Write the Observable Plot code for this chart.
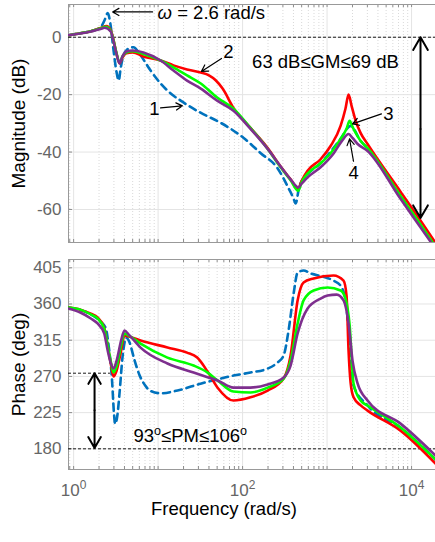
<!DOCTYPE html>
<html>
<head>
<meta charset="utf-8">
<script src="https://cdn.jsdelivr.net/npm/d3@7"></script>
<script src="https://cdn.jsdelivr.net/npm/@observablehq/plot@0.6"></script>
<style>
  html, body { margin: 0; padding: 0; background: #fff; }
  #chart { position: relative; width: 435px; height: 542px; overflow: hidden; background: #fff; }
  #chart svg { display: block; max-width: none; }
</style>
</head>
<body>
<div id="chart"></div>
<script>
// ---------------- data ----------------
// Magnitude (dB) vs frequency (rad/s)
const magBlueW  = [0.87, 1.2, 1.6, 2.09, 2.33, 2.53, 2.74, 2.97, 3.23, 3.42, 3.6, 3.9, 4.5, 5.1, 6.2, 8.15, 10.7, 14.1, 18.5, 31.8, 55, 103, 164, 259, 350, 400, 424, 470, 560, 838, 1445, 1900, 2490, 3013, 7400, 19200];
const magBlueDb = [0.7, 1.4, 2.1, 3.5, 6.0, 8.4, 4.2, -4.6, -12.3, -15.1, -10.9, -6.3, -3.9, -3.5, -6.3, -11.6, -16.1, -19.6, -22.1, -26.3, -29.8, -35.1, -40.4, -45.6, -52.6, -56.1, -57.9, -51.9, -48.4, -43.9, -35.4, -30.9, -36.1, -38.6, -55.3, -73];

const magRedW  = [0.87, 1.2, 1.6, 2.09, 2.45, 2.75, 2.97, 3.2, 3.5, 3.8, 4.2, 5.0, 6.7, 10.7, 15.2, 22, 32, 40, 48, 58, 78, 124, 198, 282, 370, 455, 500, 588, 838, 1100, 1445, 1650, 1796, 1950, 2180, 2490, 3013, 7400, 12800, 19200];
const magRedDb = [0.7, 1.4, 2.1, 3.2, 3.9, 2.5, -1, -5.3, -9.1, -7, -5.6, -5.3, -6.7, -8.1, -9.8, -11.2, -12.3, -13.3, -15, -17.9, -24.6, -31.6, -38.6, -45, -49.5, -52.8, -50, -46.5, -42.5, -37.9, -30.9, -24.9, -20, -23.9, -29.1, -33.3, -37.2, -53.8, -63.9, -71.6];

const magGreenW  = [0.87, 1.2, 1.6, 2.09, 2.4, 2.75, 2.97, 3.2, 3.5, 3.8, 4.2, 5.0, 6.7, 10.7, 15.2, 22, 32, 50, 78, 124, 198, 282, 370, 455, 500, 588, 838, 1100, 1445, 1700, 1850, 2000, 2250, 2490, 3013, 7400, 12800, 19200];
const magGreenDb = [0.7, 1.4, 2.1, 3.1, 3.6, 2.2, -1.2, -5.3, -8.8, -6.6, -5.3, -4.9, -5.8, -8.1, -10.5, -13.3, -16.1, -21, -24.9, -31.6, -38.9, -45.3, -49.8, -53.5, -50.5, -47.5, -43.9, -40.4, -35.4, -31.9, -29.1, -31.2, -34, -36.1, -38.6, -55.3, -65.3, -73];

const magPurpleW  = [0.87, 1.2, 1.6, 2.09, 2.33, 2.75, 2.97, 3.2, 3.5, 3.8, 4.2, 5.0, 6.7, 10.7, 15.2, 22, 32, 50, 78, 124, 198, 282, 370, 455, 500, 588, 838, 1200, 1500, 1800, 2000, 2300, 3013, 7400, 12800, 19200];
const magPurpleDb = [0.7, 1.3, 2.0, 2.9, 3.3, 2.0, -1.5, -5.5, -9.1, -6.6, -5.0, -4.6, -5.3, -8.1, -11.6, -15.1, -17.9, -22.1, -25.6, -31.9, -38.9, -45, -49.5, -52.3, -51, -48.8, -45.3, -40.4, -36.1, -33.7, -35.1, -37.2, -39.6, -56.3, -66.3, -73.7];

// Phase (deg) vs frequency (rad/s)
const phBlueW   = [0.87, 1.6, 2.09, 2.4, 2.6, 2.85, 3.0, 3.1, 3.3, 3.5, 3.8, 4.2, 4.6, 5.2, 6.0, 7.0, 8.15, 10.7, 17, 31.8, 55, 78, 124, 198, 259, 306, 350, 402, 448, 527, 638, 900, 1194, 1445, 1650, 1850, 2058, 3013, 7400, 19200];
const phBlueDeg = [355.6, 347, 338, 330, 308, 265, 225, 211, 222, 250, 295, 318, 312, 292, 272, 259, 252, 249, 252.5, 261, 267.3, 271, 274.8, 279.7, 287.2, 296, 327, 373, 399, 401.6, 397.9, 394, 389, 382.8, 364.4, 314.6, 258.6, 233.8, 206.4, 166.6];

const phRedW   = [0.87, 1.2, 1.6, 1.92, 2.3, 2.53, 2.74, 2.97, 3.23, 3.65, 4.0, 4.5, 6.2, 12.9, 22, 29, 38.5, 50.6, 78, 124, 198, 306, 370, 448, 527, 692, 1194, 1567, 1700, 1796, 1900, 2058, 2500, 3013, 7400, 19200];
const phRedDeg = [355.6, 353, 348, 343.2, 330.7, 308.3, 287.2, 269.8, 277.3, 302, 320.8, 319.6, 314.6, 306, 299.6, 293.4, 276, 256, 240, 244, 252.4, 267.3, 296, 364.4, 386.8, 391.7, 395.4, 389, 370, 302, 262, 244, 234, 227.5, 202.6, 161.6];

const phGreenW   = [0.87, 1.2, 1.6, 1.92, 2.3, 2.53, 2.74, 2.97, 3.23, 3.65, 4.0, 4.5, 6.2, 12.9, 26.3, 38.5, 50.6, 78, 124, 198, 306, 370, 448, 527, 692, 1014, 1445, 1650, 1850, 2058, 2491, 3013, 7400, 19200];
const phGreenDeg = [355.6, 353, 347, 342, 329.5, 308.3, 289.7, 274.9, 282.4, 308.4, 323.3, 320.8, 310.8, 293.4, 283.5, 274.8, 265, 251.2, 250, 256.1, 267.3, 289.7, 335.7, 364.4, 376.8, 380.5, 376.8, 366.8, 333.3, 261.2, 240, 233.8, 206.4, 166.6];

const phPurpleW   = [0.87, 1.2, 1.6, 1.92, 2.3, 2.53, 2.74, 2.97, 3.23, 3.65, 4.0, 4.5, 6.2, 12.9, 26.3, 38.5, 50.6, 78, 124, 198, 306, 370, 448, 588, 838, 1014, 1300, 1567, 1796, 2000, 2296, 3013, 7400, 19200];
const phPurpleDeg = [354.4, 349.4, 342, 335.8, 323.4, 302.2, 287.3, 279.8, 289.7, 314.6, 327, 322, 305.8, 286, 274.8, 269, 265, 256.1, 256.1, 260, 268.6, 283.5, 323.3, 354.4, 366.8, 370.5, 371.7, 364.4, 335.8, 289.7, 261.2, 240, 211.3, 171.6];

// ---------------- axes / ticks / styling ----------------
const freqDomain  = [0.87, 19200];
const magDomain   = [-71.5, 11.4];
const phaseDomain = [154.3, 415.3];
const freqTicks   = [1, 100, 10000];
const decades     = [1, 10, 100, 1000, 10000];
const magTicks    = [-60, -40, -20, 0];
const phaseTicks  = [180, 225, 270, 315, 360, 405];

const seriesIds    = ["1", "2", "3", "4"];
const seriesColors = ["#0072bd", "#ff0000", "#00ff00", "#7e2f8e"];

// annotations (data coordinates: rad/s, dB or deg)
const omegaLabel = [{w: 9.86, v: 8.3, text: "ω = 2.6 rad/s"}];
const magLabels = [
  {w: 68,   v: -5.3, text: "2"},
  {w: 9.06, v: -24.9, text: "1"},
  {w: 958,  v: -8.8, text: "63 dB≤GM≤69 dB"},
  {w: 5320, v: -26.7, text: "3"},
  {w: 2060, v: -47.4, text: "4"}
];
const magArrows = [
  {w1: 8.6,  v1: 8.8,  w2: 2.9,  v2: 8.8},
  {w1: 56.3, v1: -7.4, w2: 32.6, v2: -11.9},
  {w1: 10.7, v1: -24.6, w2: 19.4, v2: -23.9},
  {w1: 4400, v1: -26.7, w2: 2000, v2: -30.2},
  {w1: 2055, v1: -43.2, w2: 1845, v2: -35.4}
];
const gmArrow = [{w: 12760, from: -32, to: 0}, {w: 12760, from: -32, to: -63}];
const zeroDb = [0];

const phaseLabels = [{w: 5.12, v: 196.4, text: "93o≤PM≤106o"}];
const pmArrow = [{w: 1.77, from: 228, to: 274}, {w: 1.77, from: 228, to: 181}];
const pmLine = [{w1: 0.87, w2: 2.73, v: 274}];
const deg180 = [180];

const FONT = "Arial, 'Liberation Sans', Helvetica, sans-serif";
const minorTicks = d3.scaleLog().domain(freqDomain).ticks().filter(t => !decades.includes(t));

const rows = (ws, vs) => ws.map((w, i) => ({w, v: vs[i]}));
const magSeries = [rows(magBlueW, magBlueDb), rows(magRedW, magRedDb), rows(magGreenW, magGreenDb), rows(magPurpleW, magPurpleDb)];
const phSeries  = [rows(phBlueW, phBlueDeg), rows(phRedW, phRedDeg), rows(phGreenW, phGreenDeg), rows(phPurpleW, phPurpleDeg)];

function lineMarks(series) {
  return series.map((data, i) => Plot.line(data, {
    x: "w", y: "v", stroke: seriesColors[i], strokeWidth: 2.6,
    strokeDasharray: i === 0 ? "7,5" : null,
    curve: "monotone-x", clip: true
  }));
}

function gridMarks(yTicks, yDomain, innerH) {
  return [
    Plot.ruleX(minorTicks, {stroke: "#cfcfcf", strokeDasharray: "1,2", strokeWidth: 0.8}),
    Plot.ruleX(decades, {stroke: "#e4e4e4"}),
    Plot.ruleY(yTicks, {stroke: "#e4e4e4"}),
    // inward tick marks (MATLAB style)
    Plot.tickX(minorTicks.concat(decades), {stroke: "#8c8c8c", insetTop: innerH - 3}),
    Plot.tickX(minorTicks.concat(decades), {stroke: "#8c8c8c", insetBottom: innerH - 3}),
    Plot.tickY(yTicks, {stroke: "#8c8c8c", insetRight: 367 - 4}),
    // box: left, top, bottom
    Plot.ruleX([freqDomain[0]], {stroke: "#999"}),
    Plot.ruleY([yDomain[0], yDomain[1]], {stroke: "#999"})
  ];
}

const topH = 250, topMT = 4, topMB = 8;
const magPlot = Plot.plot({
  width: 435, height: topH, marginLeft: 68, marginRight: 0, marginTop: topMT, marginBottom: topMB,
  style: {fontFamily: FONT, fontSize: "17px", color: "#666", background: "white"},
  x: {type: "log", domain: freqDomain, axis: null},
  y: {domain: magDomain, ticks: magTicks, tickSize: 0, tickPadding: 7, label: null, tickFormat: d => String(d)},
  marks: [
    ...gridMarks(magTicks, magDomain, topH - topMT - topMB),
    Plot.ruleY(zeroDb, {stroke: "#000", strokeWidth: 0.9, strokeDasharray: "3,2"}),
    ...lineMarks(magSeries),
    Plot.arrow(magArrows, {x1: "w1", y1: "v1", x2: "w2", y2: "v2", stroke: "#000", strokeWidth: 1.2, headLength: 9}),
    Plot.arrow(gmArrow, {x1: "w", y1: "from", x2: "w", y2: "to", stroke: "#000", strokeWidth: 2, headLength: 11}),
    Plot.text(omegaLabel, {x: "w", y: "v", text: "text", textAnchor: "start", fill: "#000", fontSize: 18.5}),
    Plot.text(magLabels, {x: "w", y: "v", text: "text", textAnchor: "middle", fill: "#000", fontSize: 18.5}),
    Plot.text(["Magnitude (dB)"], {frameAnchor: "left", textAnchor: "middle", lineAnchor: "middle", dx: -50, rotate: -90, text: d => d, fill: "#000", fontSize: 19})
  ]
});

const botH = 292, botMT = 9, botMB = 73;
const phPlot = Plot.plot({
  width: 435, height: botH, marginLeft: 68, marginRight: 0, marginTop: botMT, marginBottom: botMB,
  style: {fontFamily: FONT, fontSize: "17px", color: "#666", background: "white"},
  x: {type: "log", domain: freqDomain, ticks: freqTicks, tickSize: 0, tickPadding: 14, label: null,
      tickFormat: d => "10^" + Math.round(Math.log10(d))},
  y: {domain: phaseDomain, ticks: phaseTicks, tickSize: 0, tickPadding: 7, label: null, tickFormat: d => String(d)},
  marks: [
    ...gridMarks(phaseTicks, phaseDomain, botH - botMT - botMB),
    Plot.ruleY(deg180, {stroke: "#000", strokeWidth: 0.9, strokeDasharray: "3,2"}),
    Plot.ruleY(pmLine, {x1: "w1", x2: "w2", y: "v", stroke: "#000", strokeWidth: 0.9, strokeDasharray: "3,2"}),
    ...lineMarks(phSeries),
    Plot.arrow(pmArrow, {x1: "w", y1: "from", x2: "w", y2: "to", stroke: "#000", strokeWidth: 2, headLength: 11}),
    Plot.text(phaseLabels, {x: "w", y: "v", text: "text", textAnchor: "start", fill: "#000", fontSize: 18.5}),
    Plot.text(["Phase (deg)"], {frameAnchor: "left", textAnchor: "middle", lineAnchor: "middle", dx: -50, rotate: -90, text: d => d, fill: "#000", fontSize: 19}),
    Plot.text(["Frequency (rad/s)"], {frameAnchor: "bottom", textAnchor: "middle", lineAnchor: "middle", dx: -28, dy: 40, text: d => d, fill: "#000", fontSize: 18.5})
  ]
});

const chart = document.getElementById("chart");
chart.appendChild(magPlot);
chart.appendChild(phPlot);

// ---------- rich text: superscripts and italic omega ----------
const NS = "http://www.w3.org/2000/svg";
function rebuild(textEl, parts) {
  while (textEl.firstChild) textEl.removeChild(textEl.firstChild);
  for (const p of parts) {
    const t = document.createElementNS(NS, "tspan");
    t.textContent = p.s;
    if (p.sup) { t.setAttribute("baseline-shift", "super"); t.setAttribute("font-size", p.size || "0.68em"); }
    if (p.italic) t.setAttribute("font-style", "italic");
    textEl.appendChild(t);
  }
}
for (const svg of [magPlot, phPlot]) {
  svg.querySelectorAll("text").forEach(el => {
    const s = el.textContent;
    let m;
    if ((m = /^10\^(\d)$/.exec(s))) {
      rebuild(el, [{s: "10"}, {s: m[1], sup: true, size: "12px"}]);
      el.setAttribute("font-size", "17");
    } else if (s === "93o≤PM≤106o") {
      rebuild(el, [{s: "93"}, {s: "o", sup: true}, {s: "≤PM≤106"}, {s: "o", sup: true}]);
    } else if (s.startsWith("ω")) {
      rebuild(el, [{s: "ω", italic: true}, {s: s.slice(1)}]);
    }
  });
}
</script>
</body>
</html>
